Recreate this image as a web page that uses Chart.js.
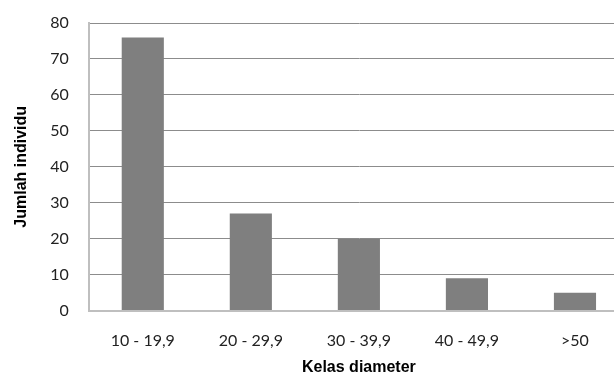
<!DOCTYPE html>
<html>
<head>
<meta charset="utf-8">
<script src="https://cdn.jsdelivr.net/npm/chart.js@4/dist/chart.umd.min.js"></script>
<style>
  html, body { margin: 0; padding: 0; background: #fff; overflow: hidden; }
  #wrap { width: 630px; height: 376px; }
</style>
</head>
<body>
<div id="wrap"><canvas id="c" width="630" height="376"></canvas></div>
<script>
const categories = ['10 - 19,9', '20 - 29,9', '30 - 39,9', '40 - 49,9', '>50'];
const jumlah = [76, 27, 20, 9, 5];
const yMax = 80;
const yStep = 10;

const tickFont = { family: 'Lato, "Open Sans", sans-serif', size: 16 };
const titleFont = { family: '"Liberation Sans", Arial, sans-serif', size: 16, weight: 'bold' };

new Chart(document.getElementById('c').getContext('2d'), {
  type: 'bar',
  data: {
    labels: categories,
    datasets: [{
      data: jumlah,
      backgroundColor: '#7f7f7f',
      borderWidth: 0,
      categoryPercentage: 0.39,
      barPercentage: 1,
    }],
  },
  options: {
    responsive: false,
    animation: false,
    layout: { padding: { top: 23, left: 12, right: 1, bottom: -1 } },
    plugins: {
      legend: { display: false },
      tooltip: { enabled: false },
    },
    scales: {
      x: {
        grid: { display: false, drawTicks: false },
        border: { color: '#bfbfbf', width: 2 },
        ticks: { color: '#222', font: tickFont, padding: 21, maxRotation: 0 },
        title: { display: true, text: 'Kelas diameter', color: '#000', font: titleFont, padding: { top: -14, bottom: 0 } },
      },
      y: {
        min: 0,
        max: yMax,
        ticks: { stepSize: yStep, color: '#222', font: tickFont, padding: 3 },
        grid: { color: '#8c8c8c', drawTicks: true, tickLength: 17, tickColor: 'rgba(0,0,0,0)' },
        border: { color: '#bfbfbf', width: 2 },
        title: { display: true, text: 'Jumlah individu', color: '#000', font: titleFont, padding: { top: 0, bottom: 16 } },
      },
    },
  },
});
</script>
</body>
</html>
